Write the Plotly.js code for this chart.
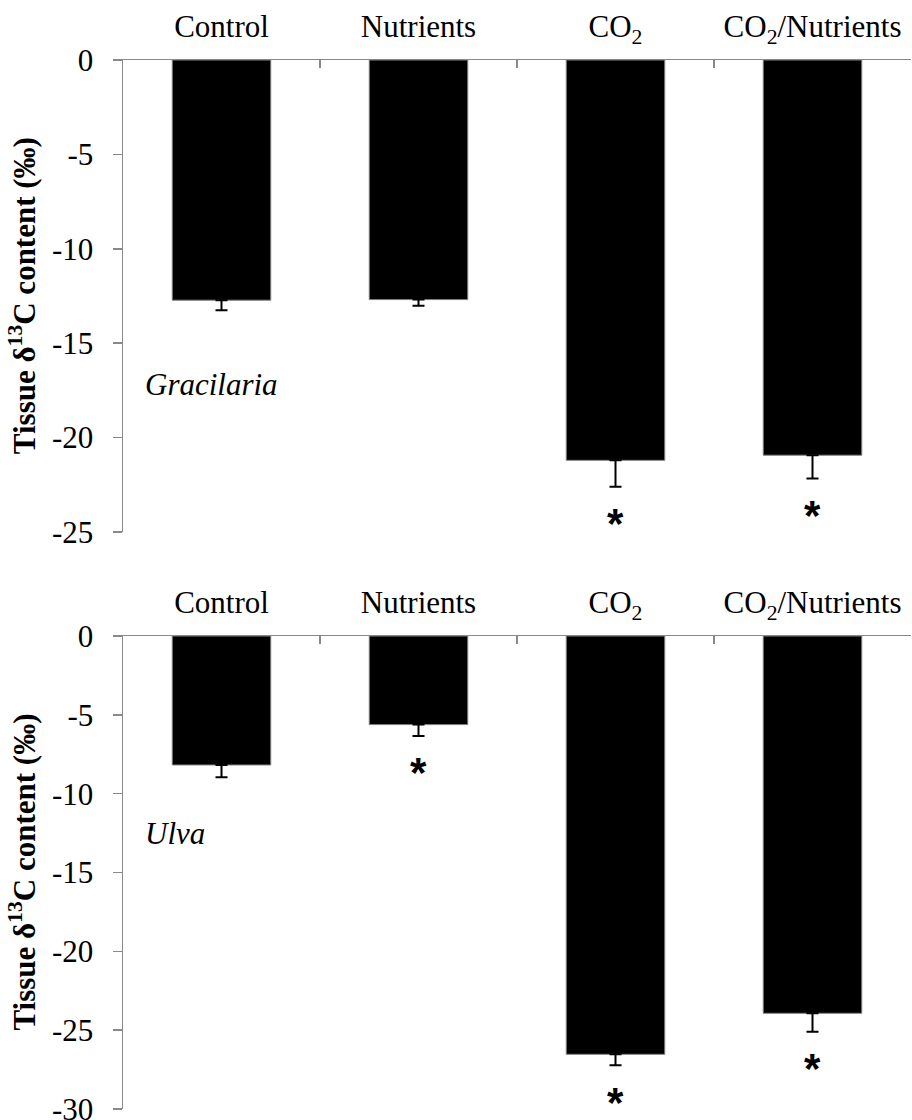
<!DOCTYPE html>
<html>
<head>
<meta charset="utf-8">
<script src="https://cdn.plot.ly/plotly-3.0.1.min.js"></script>
<style>html,body{margin:0;padding:0;background:#fff;}#chart{width:912px;height:1120px;}</style>
</head>
<body>
<div id="chart"></div>
<script>
// ---- data ----
const categories = ['Control', 'Nutrients', 'CO<sub>2</sub>', 'CO<sub>2</sub>/Nutrients'];
const graciliariaMean = [-12.72, -12.69, -21.2, -20.93];
const graciliariaErr = [0.53, 0.32, 1.4, 1.23];
const graciliariaSig = [false, false, true, true];
const ulvaMean = [-8.18, -5.62, -26.53, -23.93];
const ulvaErr = [0.78, 0.72, 0.7, 1.17];
const ulvaSig = [false, true, true, true];
const panelNames = ['Gracilaria', 'Ulva'];
const yTicksTop = [0, -5, -10, -15, -20, -25];
const yTicksBottom = [0, -5, -10, -15, -20, -25, -30];

const serif = '"Times New Roman", "Liberation Serif", serif';
const axisGrey = '#898989';

function barTrace(mean, err, xa, ya) {
  return {
    type: 'bar', x: categories, y: mean, xaxis: xa, yaxis: ya,
    width: 0.5,
    marker: {color: '#000000', line: {color: '#7f7f7f', width: 1}},
    error_y: {type: 'data', symmetric: false, array: mean.map(() => 0), arrayminus: err,
              color: '#000000', thickness: 2, width: 6},
    hoverinfo: 'skip', showlegend: false
  };
}
// invisible helper traces so the overlay tick axes are drawn
function ghostTrace(mean, xa, ya) {
  return {type: 'scatter', mode: 'markers', x: categories, y: mean, xaxis: xa, yaxis: ya,
          marker: {opacity: 0}, hoverinfo: 'skip', showlegend: false};
}

const data = [
  barTrace(graciliariaMean, graciliariaErr, 'x', 'y'),
  barTrace(ulvaMean, ulvaErr, 'x2', 'y2'),
  ghostTrace(graciliariaMean, 'x', 'y3'),
  ghostTrace(ulvaMean, 'x2', 'y4')
];

function xaxisDef(anchor) {
  return {
    anchor: anchor, side: 'top', type: 'category',
    showline: true, linecolor: axisGrey, linewidth: 1.5,
    ticks: 'inside', tickson: 'boundaries', ticklen: 8, tickcolor: axisGrey, tickwidth: 1.5,
    tickfont: {family: serif, size: 31, color: '#000'},
    ticklabelstandoff: 9,
    showgrid: false, zeroline: false, fixedrange: true
  };
}
// label axis: long transparent ticks push the labels away from the axis line
function yaxisDef(anchor, domain, range, ticks) {
  return {
    anchor: anchor, domain: domain, range: range,
    tickvals: ticks, ticktext: ticks.map(String),
    showline: true, linecolor: axisGrey, linewidth: 1.5,
    ticks: 'outside', ticklen: 22, tickcolor: 'rgba(0,0,0,0)', tickwidth: 1.5,
    tickfont: {family: serif, size: 31, color: '#000'},
    ticklabeloverflow: 'allow',
    showgrid: false, zeroline: false, fixedrange: true
  };
}
// tick-mark axis: short visible grey ticks, no labels
function yTickAxis(over, anchor, range, ticks) {
  return {
    overlaying: over, anchor: anchor, side: 'left', range: range,
    tickvals: ticks, showticklabels: false,
    showline: false, ticks: 'outside', ticklen: 9, tickcolor: axisGrey, tickwidth: 1.5,
    showgrid: false, zeroline: false, fixedrange: true
  };
}

const annotations = [];
function addPanelAnnots(mean, err, sig, xref, yref, name, nameY) {
  categories.forEach((c, i) => {
    if (sig[i]) {
      annotations.push({
        xref: xref, yref: yref, x: c, y: mean[i] - err[i],
        text: '<b>*</b>', showarrow: false, xanchor: 'center', yanchor: 'middle', yshift: -37,
        font: {family: '"Liberation Sans", Arial, sans-serif', size: 42, color: '#000'}
      });
    }
  });
  annotations.push({
    xref: 'paper', yref: yref, x: 0.026, y: nameY, xanchor: 'left', yanchor: 'middle',
    text: '<i>' + name + '</i>', showarrow: false,
    font: {family: serif, size: 31, color: '#000'}
  });
}
addPanelAnnots(graciliariaMean, graciliariaErr, graciliariaSig, 'x', 'y', panelNames[0], -17.2);
addPanelAnnots(ulvaMean, ulvaErr, ulvaSig, 'x2', 'y2', panelNames[1], -12.5);

const yTitle = '<b>Tissue δ<sup>13</sup>C content (‰)</b>';
annotations.push({xref: 'paper', yref: 'paper', x: -0.128, y: 0.775, xanchor: 'center', yanchor: 'middle',
  textangle: -90, text: yTitle, showarrow: false, font: {family: serif, size: 31, color: '#000'}});
annotations.push({xref: 'paper', yref: 'paper', x: -0.128, y: 0.2255, xanchor: 'center', yanchor: 'middle',
  textangle: -90, text: yTitle, showarrow: false, font: {family: serif, size: 31, color: '#000'}});

const layout = {
  width: 912, height: 1120,
  margin: {l: 123, r: 1, t: 60, b: 11},
  paper_bgcolor: '#fff', plot_bgcolor: '#fff',
  bargap: 0.5,
  xaxis: xaxisDef('y'),
  yaxis: yaxisDef('x', [0.55, 1], [-25, 0], yTicksTop),
  xaxis2: xaxisDef('y2'),
  yaxis2: yaxisDef('x2', [0, 0.4509], [-30, 0], yTicksBottom),
  yaxis3: yTickAxis('y', 'x', [-25, 0], yTicksTop),
  yaxis4: yTickAxis('y2', 'x2', [-30, 0], yTicksBottom),
  annotations: annotations,
  showlegend: false
};

Plotly.newPlot('chart', data, layout, {staticPlot: true, displayModeBar: false});
</script>
</body>
</html>
